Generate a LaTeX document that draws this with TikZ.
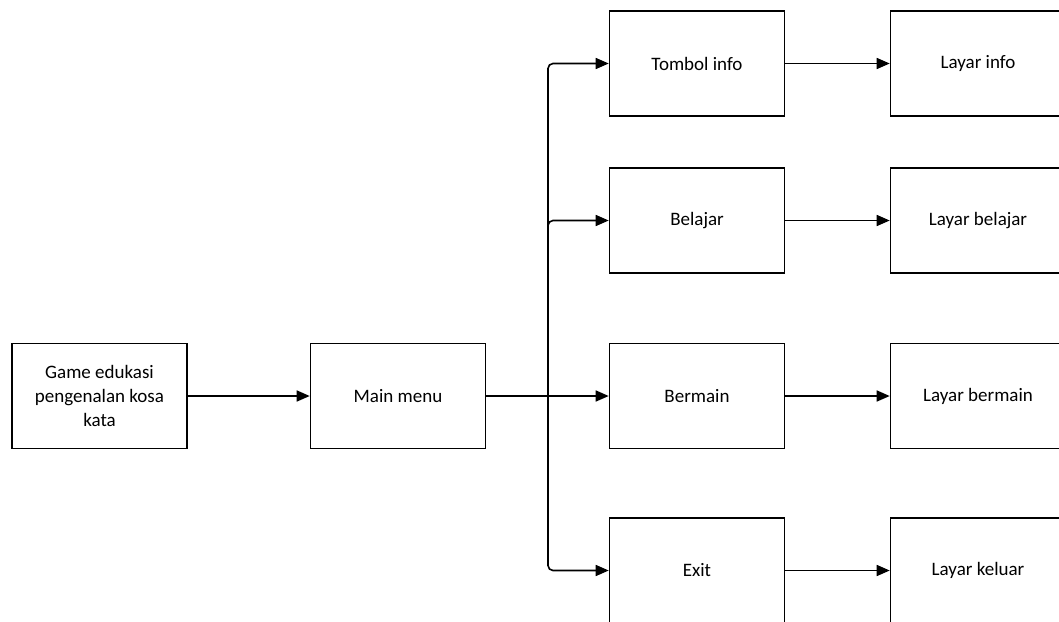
\documentclass[tikz,border=0pt]{standalone}
\usepackage{fontspec}
\setmainfont{Carlito}
\usetikzlibrary{arrows.meta}
\begin{document}
\begin{tikzpicture}[x=1pt,y=-1pt,
  box/.style={draw=black, line width=1.6pt, minimum width=175pt, minimum height=105pt,
    inner sep=2pt, align=center, font=\fontsize{19}{24}\selectfont},
  conn/.style={line width=1.6pt, -{Triangle[length=13pt,width=11pt]}},
  link/.style={line width=1.6pt}]
  \useasboundingbox (0,0) rectangle (1059,621);
  \clip (0,0) rectangle (1059,621);

  % left part of the chart
  \node[box] (game) at (99.5,396) {Game edukasi\\pengenalan kosa\\kata};
  \node[box] (main) at (398,396) {Main menu};

  % menu choices
  \node[box] (tombol)  at (697,63.5)  {Tombol info};
  \node[box] (belajar) at (697,220.5) {Belajar};
  \node[box] (bermain) at (697,396)   {Bermain};
  \node[box] (exit)    at (697,570.5) {Exit};

  % screens reached from each choice
  \node[box] (linfo)    at (978,63.5)  {Layar info};
  \node[box] (lbelajar) at (978,220.5) {Layar belajar};
  \node[box] (lbermain) at (978,396)   {Layar bermain};
  \node[box] (lkeluar)  at (978,570.5) {Layar keluar};

  % branching point of the menu
  \coordinate (split) at (548,396);

  \draw[conn] (game) -- (main);
  \draw[link] (main.east) -- (split);
  \draw[conn, rounded corners=5pt] (split) |- (tombol.west);
  \draw[conn, rounded corners=5pt] (split) |- (belajar.west);
  \draw[conn] (split) -- (bermain.west);
  \draw[conn, rounded corners=5pt] (split) |- (exit.west);

  \draw[conn] (tombol) -- (linfo);
  \draw[conn] (belajar) -- (lbelajar);
  \draw[conn] (bermain) -- (lbermain);
  \draw[conn] (exit) -- (lkeluar);
\end{tikzpicture}
\end{document}
